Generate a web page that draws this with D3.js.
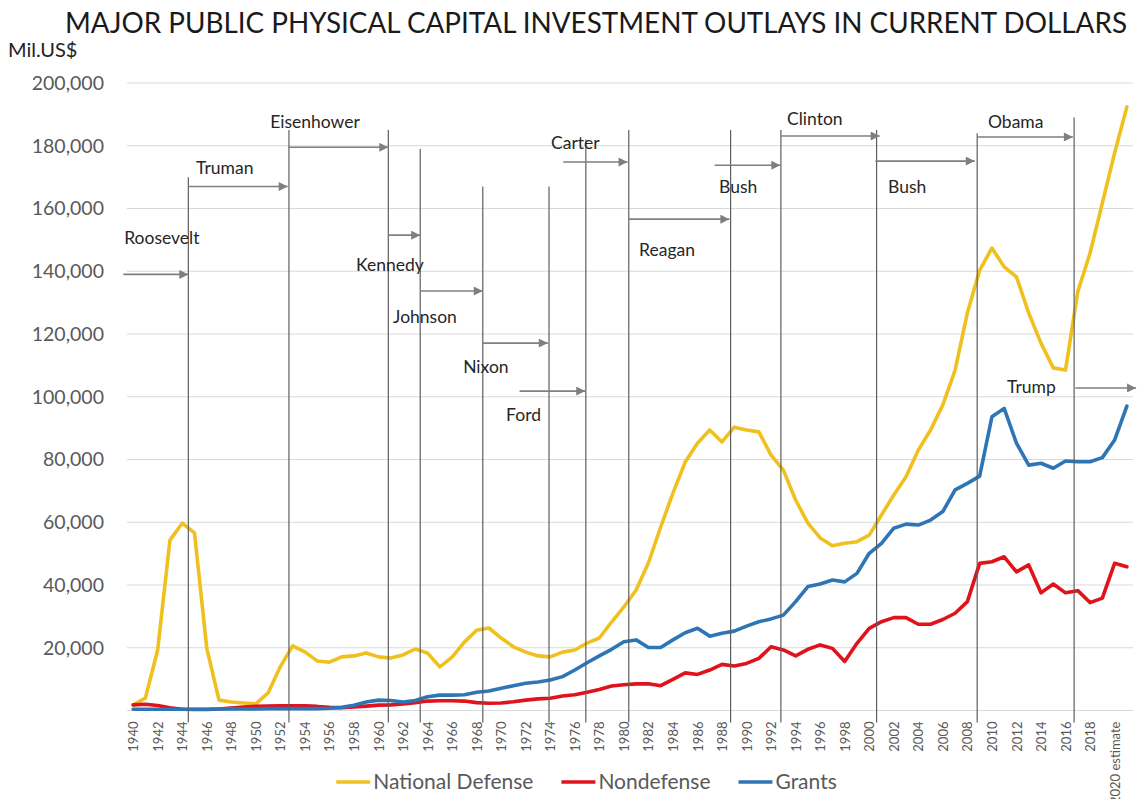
<!DOCTYPE html>
<html>
<head>
<meta charset="utf-8">
<script src="https://cdn.jsdelivr.net/npm/d3@7"></script>
<style>
  body { margin: 0; background: #fff; }
  svg { display: block; font-family: Lato, "Open Sans", sans-serif; }
</style>
</head>
<body>
<svg id="chart" width="1137" height="799"></svg>
<script>
// categories: fiscal years, the last two are estimates
var years = d3.range(1940, 2020).map(String).concat(["2020 estimate", "2021 estimate"]);

// outlays, millions of dollars
var nationalDefense = [
  1700, 4000, 19300, 54300, 59700, 56600, 19900, 3300, 2700, 2400,
  2100, 5600, 14000, 20600, 18700, 15800, 15400, 17100, 17400, 18300,
  17100, 16700, 17700, 19600, 18300, 13900, 17000, 21800, 25600, 26300,
  23100, 20300, 18600, 17400, 17100, 18600, 19300, 21500, 23100, 28200,
  33000, 38400, 47000, 58500, 69300, 79200, 85200, 89400, 85600, 90300,
  89400, 88800, 81400, 76600, 67100, 59700, 55000, 52500, 53300, 53800,
  55900, 62300, 68700, 74500, 83000, 89400, 97400, 108500, 126700, 140300,
  147400, 141400, 138200, 126700, 117100, 109200, 108500, 133500, 145800, 161700,
  177700, 192400];

var nondefense = [
  1800, 2000, 1600, 900, 400, 300, 300, 500, 800, 1100,
  1300, 1400, 1500, 1500, 1500, 1300, 1000, 900, 1100, 1400,
  1700, 1800, 2100, 2500, 3000, 3100, 3100, 3000, 2500, 2300,
  2400, 2800, 3300, 3700, 3900, 4600, 5000, 5800, 6700, 7800,
  8200, 8500, 8500, 7900, 9900, 12000, 11500, 12900, 14700, 14200,
  15000, 16600, 20300, 19300, 17400, 19500, 20900, 19800, 15600, 21400,
  26200, 28300, 29600, 29600, 27500, 27500, 29000, 31000, 34700, 46900,
  47400, 49000, 44200, 46400, 37500, 40300, 37500, 38200, 34400, 35800,
  46900, 45800];

var grants = [
  400, 400, 400, 400, 400, 400, 400, 500, 600, 500,
  500, 600, 600, 600, 600, 600, 700, 1000, 1700, 2700,
  3300, 3200, 2700, 3200, 4400, 4900, 4900, 5000, 5800, 6200,
  7100, 7900, 8700, 9100, 9700, 10800, 12900, 15200, 17400, 19500,
  21900, 22500, 20100, 20100, 22500, 24800, 26200, 23700, 24600, 25300,
  26900, 28300, 29200, 30400, 34700, 39500, 40300, 41600, 41000, 43700,
  50100, 53300, 58100, 59400, 59100, 60700, 63400, 70300, 72400, 74700,
  93600, 96300, 85200, 78200, 78800, 77200, 79500, 79300, 79300, 80600,
  86200, 97000];

var yTicks = [20000, 40000, 60000, 80000, 100000, 120000, 140000, 160000, 180000, 200000];

// presidential terms: where each term starts (vertical rule) and how high the rule goes
var termStart = [1944.5, 1952.7, 1960.8, 1963.4, 1968.5, 1973.9, 1976.9, 1980.4, 1988.7, 1992.8, 2000.6, 2008.8, 2016.7];
var termRuleTop = [170000, 185000, 185000, 179000, 167000, 167000, 182000, 185000, 185000, 185000, 185000, 184000, 189000];

// arrow and label for each president, in year / dollar units
var presidents = ["Roosevelt", "Truman", "Eisenhower", "Kennedy", "Johnson", "Nixon", "Ford", "Carter", "Reagan", "Bush", "Clinton", "Bush", "Obama", "Trump"];
var arrowFrom = [1939.2, 1944.5, 1952.7, 1960.8, 1963.4, 1968.5, 1971.5, 1975.05, 1980.4, 1987.4, 1992.8, 2000.5, 2008.8, 2016.8];
var arrowTo   = [1944.5, 1952.6, 1960.8, 1963.4, 1968.5, 1973.8, 1976.85, 1980.3, 1988.6, 1992.75, 2000.85, 2008.6, 2016.6, 2021.75];
var arrowAt   = [139000, 167000, 179500, 151500, 133700, 117100, 101800, 174800, 156600, 173800, 183100, 175100, 182800, 102800];
var labelYear = [1939.27, 1945.13, 1951.17, 1958.17, 1961.19, 1966.9, 1970.4, 1974.07, 1981.24, 1987.76, 1993.3, 2001.53, 2009.68, 2011.23];
var labelAt   = [150600, 172900, 187600, 142000, 125400, 109500, 94200, 180900, 146800, 166800, 188500, 166800, 187600, 103100];

var seriesNames = ["National Defense", "Nondefense", "Grants"];
var colors = ["#F0C11E", "#E0131D", "#2E75B6"];
var seriesValues = [nationalDefense, nondefense, grants];

var svg = d3.select("#chart");
var plot = {left: 127, right: 1133, top: 83, bottom: 710.5};

var x = d3.scalePoint()
  .domain(years)
  .range([plot.left, plot.right])
  .padding(0.5);

// continuous year scale on the same positions, for the term annotations
var xYear = d3.scaleLinear()
  .domain([1940, 2021])
  .range([x(years[0]), x(years[years.length - 1])]);

var y = d3.scaleLinear()
  .domain([0, 200000])
  .range([plot.bottom, plot.top]);

// title
svg.append("text")
  .attr("x", 596).attr("y", 33)
  .attr("text-anchor", "middle")
  .attr("font-size", 29)
  .attr("fill", "#1a1a1a")
  .attr("textLength", 1062)
  .attr("lengthAdjust", "spacingAndGlyphs")
  .text("MAJOR PUBLIC PHYSICAL CAPITAL INVESTMENT OUTLAYS IN CURRENT DOLLARS");

svg.append("text")
  .attr("x", 8).attr("y", 57)
  .attr("font-size", 20)
  .attr("fill", "#222")
  .text("Mil.US$");

// gridlines
svg.append("g")
  .selectAll("line")
  .data([0].concat(yTicks))
  .join("line")
  .attr("x1", plot.left).attr("x2", plot.right)
  .attr("y1", d => y(d)).attr("y2", d => y(d))
  .attr("stroke", "#d9d9d9")
  .attr("stroke-width", 1.2);

// y axis
var yAxis = svg.append("g")
  .attr("transform", "translate(" + plot.left + ",0)")
  .call(d3.axisLeft(y).tickValues(yTicks).tickFormat(d3.format(",")).tickSize(0).tickPadding(23));
yAxis.select(".domain").remove();
yAxis.selectAll("text")
  .attr("font-family", "Lato, sans-serif")
  .attr("font-size", 19.5)
  .attr("fill", "#595959");

// x axis, every second year
var xAxis = svg.append("g")
  .attr("transform", "translate(0," + plot.bottom + ")")
  .call(d3.axisBottom(x).tickValues(years.filter((d, i) => i % 2 === 0)).tickSize(0).tickPadding(0));
xAxis.select(".domain").remove();
xAxis.selectAll("text")
  .attr("font-family", "Lato, sans-serif")
  .attr("font-size", 13)
  .attr("fill", "#595959")
  .attr("text-anchor", "end")
  .attr("transform", "translate(0,11) rotate(-90)")
  .attr("x", 0).attr("y", 0)
  .attr("dy", "0.35em");

// series
var line = d3.line()
  .x((d, i) => x(years[i]))
  .y(d => y(d));

svg.append("g")
  .selectAll("path")
  .data(seriesValues)
  .join("path")
  .attr("d", d => line(d))
  .attr("fill", "none")
  .attr("stroke", (d, i) => colors[i])
  .attr("stroke-width", 3.6)
  .attr("stroke-linejoin", "round")
  .attr("stroke-linecap", "round");

// term rules
svg.append("g")
  .selectAll("line")
  .data(termStart)
  .join("line")
  .attr("x1", d => xYear(d)).attr("x2", d => xYear(d))
  .attr("y1", (d, i) => y(termRuleTop[i]))
  .attr("y2", plot.bottom + 12)
  .attr("stroke", "#5e5e5e")
  .attr("stroke-width", 1.2);

// arrows
var defs = svg.append("defs");
defs.append("marker")
  .attr("id", "head")
  .attr("viewBox", "0 0 10 10")
  .attr("refX", 10).attr("refY", 5)
  .attr("markerWidth", 10).attr("markerHeight", 9)
  .attr("markerUnits", "userSpaceOnUse")
  .attr("orient", "auto")
  .append("path")
  .attr("d", "M0,0L10,5L0,10Z")
  .attr("fill", "#7f7f7f");

svg.append("g")
  .selectAll("line")
  .data(presidents)
  .join("line")
  .attr("x1", (d, i) => xYear(arrowFrom[i]))
  .attr("x2", (d, i) => xYear(arrowTo[i]))
  .attr("y1", (d, i) => y(arrowAt[i]))
  .attr("y2", (d, i) => y(arrowAt[i]))
  .attr("stroke", "#7f7f7f")
  .attr("stroke-width", 1.6)
  .attr("marker-end", "url(#head)");

svg.append("g")
  .selectAll("text")
  .data(presidents)
  .join("text")
  .attr("x", (d, i) => xYear(labelYear[i]))
  .attr("y", (d, i) => y(labelAt[i]))
  .attr("dy", "0.35em")
  .attr("font-size", 17.5)
  .attr("fill", "#262626")
  .text(d => d);

// legend
var legend = svg.append("g");
var items = legend.selectAll("g")
  .data(seriesNames)
  .join("g");
items.append("line")
  .attr("x1", 0).attr("x2", 34)
  .attr("y1", 0).attr("y2", 0)
  .attr("stroke", (d, i) => colors[i])
  .attr("stroke-width", 3.6);
items.append("text")
  .attr("x", 37).attr("dy", "0.35em")
  .attr("font-size", 21)
  .attr("fill", "#595959")
  .text(d => d);

var pos = 0;
items.each(function() {
  var w = 37 + this.querySelector("text").getComputedTextLength();
  d3.select(this).attr("transform", "translate(" + pos + ",0)");
  pos += w + 28;
});
var legendWidth = pos - 28;
legend.attr("transform", "translate(" + (586.5 - legendWidth / 2) + ",782)");
</script>
</body>
</html>
